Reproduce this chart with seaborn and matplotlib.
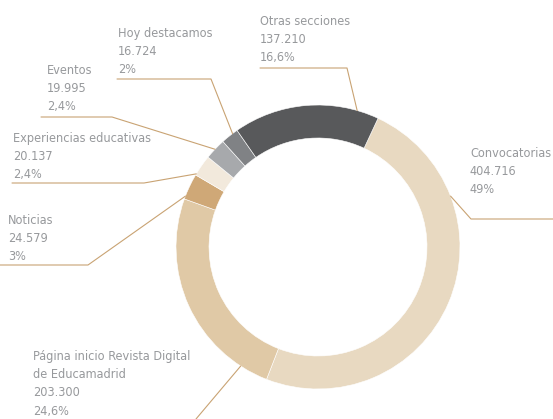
import numpy as np
import matplotlib
matplotlib.use("Agg")
import matplotlib.pyplot as plt
import seaborn as sns

# Data (clockwise from the Convocatorias wedge)
labels = [
    "Convocatorias",
    "Página inicio Revista Digital\nde Educamadrid",
    "Noticias",
    "Experiencias educativas",
    "Eventos",
    "Hoy destacamos",
    "Otras secciones",
]
visits = [404716, 203300, 24579, 20137, 19995, 16724, 137210]
value_txt = ["404.716", "203.300", "24.579", "20.137", "19.995", "16.724", "137.210"]
pct_txt = ["49%", "24,6%", "3%", "2,4%", "2,4%", "2%", "16,6%"]
colors = ["#E8D9C1", "#E0C9A6", "#CFA877", "#F2E9DC", "#A7A9AC", "#808285", "#58595B"]

sns.set_theme(style="white")
plt.rcParams["font.family"] = ["DejaVu Sans"]
plt.rcParams["font.stretch"] = "condensed"

W, H = 553, 419
fig = plt.figure(figsize=(W / 100, H / 100), dpi=100)
ax = fig.add_axes([0, 0, 1, 1])

cx, cy, R, ring = 318, 247, 142, 33
ax.pie(visits, colors=colors, radius=R, center=(cx, H - cy),
       startangle=65, counterclock=False,
       wedgeprops=dict(width=ring, edgecolor="white", linewidth=0.4))
ax.set_xlim(0, W)
ax.set_ylim(0, H)
ax.set_aspect("equal")
ax.axis("off")

# label layout in image pixels: text x, first baseline y, anchor angle
# (deg clockwise from top), leader polyline points from label side
line_col = "#C9A373"
txt_col = "#97999C"
layout = {
    "Convocatorias": (470, 157, 69, [(553, 219), (471, 219)]),
    "Página inicio Revista Digital\nde Educamadrid": (33, 360, 213, [(196, 419)]),
    "Noticias": (8, 224, -69, [(0, 265), (88, 265)]),
    "Experiencias educativas": (13, 142, -59, [(12, 183), (144, 183)]),
    "Eventos": (47, 74, -46.5, [(41, 117), (112, 117)]),
    "Hoy destacamos": (118, 37, -37, [(117, 79), (211, 79)]),
    "Otras secciones": (260, 25, 16, [(260, 68), (347, 68)]),
}

for lab, val, pct in zip(labels, value_txt, pct_txt):
    tx, ty, ang, pts = layout[lab]
    lines = lab.split("\n") + [val, pct]
    for i, ln in enumerate(lines):
        ax.text(tx, H - (ty + i * 18.2), ln, fontsize=9.1, color=txt_col,
                ha="left", va="baseline")
    a = np.deg2rad(ang)
    ax_pt = (cx + R * np.sin(a), cy - R * np.cos(a))
    path = pts + [ax_pt]
    xs = [p[0] for p in path]
    ys = [H - p[1] for p in path]
    ax.plot(xs, ys, color=line_col, lw=0.8, clip_on=False)

fig.savefig("out.png", dpi=100)
